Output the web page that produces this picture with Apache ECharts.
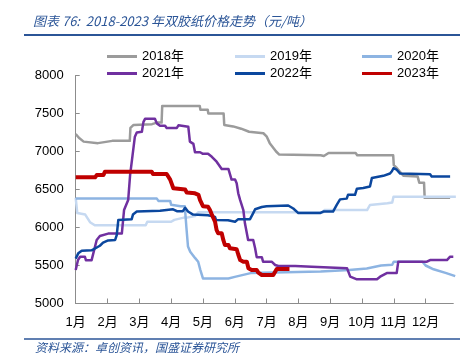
<!DOCTYPE html>
<html><head><meta charset="utf-8">
<script src="https://cdn.jsdelivr.net/npm/echarts@6/dist/echarts.min.js"></script>
<style>html,body{margin:0;padding:0;background:#fff}#c{width:476px;height:361px}</style>
</head><body><div id="c"></div>
<script>
// x values are month positions (0 = start of January)
const monthLabels = ['1月','2月','3月','4月','5月','6月','7月','8月','9月','10月','11月','12月'];
const seriesNames = ['2018年','2019年','2020年','2021年','2022年','2023年'];

const x2018 = [0,0.1,0.25,0.7,1.15,1.7,1.72,1.82,2.4,2.55,2.7,2.72,3.9,3.92,4.15,4.17,4.65,4.67,4.95,5.2,5.45,5.9,6.0,6.1,6.3,6.4,7.7,7.8,7.95,8.8,8.85,9.98,10.0,10.1,10.3,10.75,10.8,10.95,10.97,11.77];
const v2018 = [7230,7180,7130,7110,7140,7140,7310,7350,7360,7380,7380,7600,7600,7550,7550,7500,7500,7350,7330,7300,7260,7240,7200,7110,7000,6960,6950,6940,6980,6980,6950,6950,6820,6780,6680,6670,6590,6590,6390,6390];

const x2019 = [0,0.05,0.3,0.45,0.6,2.2,2.25,3.0,3.1,3.4,3.5,3.75,3.85,7.78,7.82,9.16,9.25,9.8,9.95,9.99,11.95];
const v2019 = [6390,6190,6170,6070,6030,6030,6076,6076,6100,6130,6130,6150,6200,6200,6230,6230,6296,6318,6330,6405,6405];

const x2020 = [0,2.55,2.6,2.97,3.0,3.3,3.43,3.48,3.53,3.6,3.75,3.85,3.92,4.0,4.8,4.85,5.0,5.3,5.5,7.7,8.6,9.15,9.6,9.95,10.0,10.9,11.0,11.25,11.65,11.93];
const v2020 = [6380,6380,6350,6350,6300,6280,6280,6000,5750,5680,5600,5550,5440,5330,5330,5350,5350,5380,5400,5420,5440,5460,5500,5510,5550,5550,5500,5450,5400,5360];

const x2021 = [0,0.07,0.14,0.29,0.32,0.5,0.66,0.76,1.02,1.45,1.52,1.65,1.71,1.86,1.92,2.08,2.13,2.18,2.49,2.55,2.65,2.81,2.86,3.18,3.23,3.28,3.54,3.59,3.7,3.75,3.91,4.0,4.16,4.28,4.43,4.59,4.8,4.9,5.01,5.06,5.11,5.17,5.27,5.32,5.38,5.42,5.58,5.64,5.69,5.85,5.89,6.16,6.27,6.37,6.9,7.42,7.46,8.53,8.57,8.63,8.84,9.47,9.57,9.78,10.09,10.14,10.29,11.04,11.14,11.67,11.77,11.87];
const v2021 = [5440,5570,5615,5615,5570,5570,5836,5888,5920,5920,6230,6362,6690,7195,7250,7260,7390,7430,7430,7370,7340,7340,7310,7310,7345,7325,7325,7130,7100,6990,6990,6970,6970,6930,6866,6770,6770,6630,6630,6582,6450,6360,6230,6055,5924,5836,5836,5726,5610,5610,5550,5550,5507,5493,5493,5484,5463,5463,5441,5353,5318,5318,5353,5400,5400,5550,5550,5550,5572,5572,5616,5616];

const x2022 = [0,0.08,0.19,0.5,0.76,0.86,1.02,1.24,1.29,1.34,1.76,1.8,1.92,2.65,2.68,3.06,3.18,3.37,3.44,3.53,3.69,4.16,4.22,4.38,4.41,4.79,4.85,5.01,5.11,5.48,5.58,5.64,5.85,6.0,6.68,6.84,7.0,7.68,7.78,8.09,8.21,8.31,8.52,8.56,8.78,8.84,9.04,9.1,9.25,9.31,9.67,9.73,9.88,9.94,9.99,10.09,10.2,11.14,11.19,11.77];
const v2022 = [5590,5660,5695,5700,5760,5800,5830,5836,5900,6100,6110,6170,6210,6220,6240,6240,6215,6215,6260,6210,6170,6160,6140,6140,6100,6095,6076,6076,6110,6110,6190,6240,6270,6280,6290,6250,6190,6190,6210,6210,6300,6370,6380,6430,6430,6510,6520,6540,6540,6650,6680,6705,6710,6740,6780,6760,6710,6700,6670,6670];

const x2023 = [0,0.61,0.66,0.87,0.92,2.39,2.43,2.86,2.97,3.07,3.44,3.49,3.75,3.86,3.91,4.0,4.16,4.22,4.28,4.33,4.38,4.43,4.48,4.59,4.64,4.69,4.8,4.85,5.06,5.11,5.17,5.27,5.38,5.43,5.53,5.69,5.74,5.85,6.21,6.27,6.32,6.72];
const v2023 = [6660,6660,6690,6690,6734,6734,6704,6704,6630,6516,6500,6460,6450,6430,6360,6280,6274,6230,6170,6165,6076,5967,5924,5924,5836,5770,5770,5726,5713,5645,5572,5550,5550,5463,5441,5441,5406,5375,5375,5419,5455,5455];

const xs = [x2018,x2019,x2020,x2021,x2022,x2023];
const vs = [v2018,v2019,v2020,v2021,v2022,v2023];
const colors = ['#9B9B9B','#C6D9F1','#8DB4E2','#7030A0','#0B479E','#C00000'];
const widths = [2.5,2.5,2.5,2.5,2.5,4];

const FONT = '"Liberation Sans","Noto Sans CJK SC",sans-serif';
const series = seriesNames.map((n,i)=>({
  name:n, type:'line', showSymbol:false, symbol:'none',
  data: xs[i].map((x,j)=>[x, vs[i][j]]),
  lineStyle:{color:colors[i], width:widths[i], join:'round'},
  itemStyle:{color:colors[i]}, animation:false, z: 2+i
}));

function legendCol(left, names){
  return {left:left, top:45, orient:'vertical', itemGap:4, icon:'rect', itemWidth:30, itemHeight:3,
    data:names, textStyle:{fontSize:13, lineHeight:13, color:'#000', fontFamily:FONT}, itemStyle:{borderWidth:0}};
}

const chart = echarts.init(document.getElementById('c'));
chart.setOption({
  animation:false,
  backgroundColor:'#fff',
  legend:[legendCol(102,['2018年','2021年']), legendCol(230,['2019年','2022年']), legendCol(357,['2020年','2023年'])],
  grid:{left:75.7, right:22.7, top:75.5, bottom:57.5},
  xAxis:{type:'value', min:0, max:11.87, interval:1,
    axisLine:{lineStyle:{color:'#8C8C8C', width:1}},
    axisTick:{inside:true, length:5, lineStyle:{color:'#8C8C8C'}},
    splitLine:{show:false},
    axisLabel:{showMaxLabel:false, margin:12, fontSize:13, color:'#000', fontFamily:FONT,
      formatter:v=> (Number.isInteger(v) && v<12) ? monthLabels[v] : ''}},
  yAxis:{type:'value', min:5000, max:8000, interval:500,
    axisLine:{show:true, lineStyle:{color:'#8C8C8C', width:1}},
    axisTick:{show:true, inside:true, length:4, lineStyle:{color:'#8C8C8C'}},
    splitLine:{show:false},
    axisLabel:{margin:12, fontSize:13, color:'#000', fontFamily:FONT, formatter:v=>String(v)}},
  graphic:[
    {type:'text', left:33, top:15, style:{text:'图表 76:  2018-2023 年双胶纸价格走势（元/吨）', fill:'#2B5597', font:'italic 13px "Noto Sans CJK SC", sans-serif'}},
    {type:'line', shape:{x1:24, y1:35, x2:460, y2:35}, style:{stroke:'#2B5597', lineWidth:2}},
    {type:'line', shape:{x1:24, y1:339, x2:460, y2:339}, style:{stroke:'#2B5597', lineWidth:1.5}},
    {type:'text', left:35, top:341, style:{text:'资料来源：卓创资讯，国盛证券研究所', fill:'#2B5597', font:'italic 12px "Noto Sans CJK SC", sans-serif'}}
  ],
  series: series
});
</script></body></html>
